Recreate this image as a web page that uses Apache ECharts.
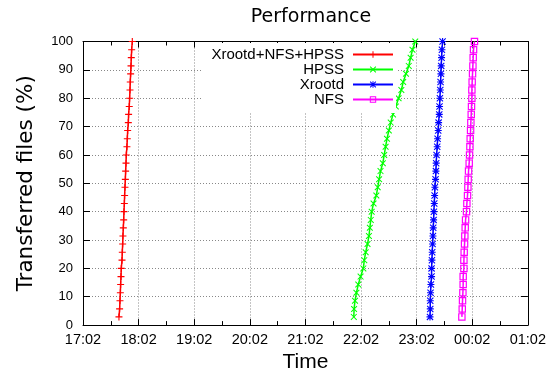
<!DOCTYPE html>
<html>
<head>
<meta charset="utf-8">
<script src="https://cdn.jsdelivr.net/npm/echarts@6/dist/echarts.min.js"></script>
<style>
  html, body { margin: 0; padding: 0; background: #fff; }
  #chart { width: 549px; height: 378px; }
</style>
</head>
<body>
<div id="chart"></div>
<script>
// x values are minutes after 17:02
const tickLabels = ['17:02', '18:02', '19:02', '20:02', '21:02', '22:02', '23:02', '00:02', '01:02'];

const percentDone = [2.9, 5.7, 8.6, 11.4, 14.3, 17.1, 20.0, 22.9, 25.7, 28.6, 31.4, 34.3,
  37.1, 40.0, 42.9, 45.7, 48.6, 51.4, 54.3, 57.1, 60.0, 62.9, 65.7, 68.6, 71.4, 74.3,
  77.1, 80.0, 82.9, 85.7, 88.6, 91.4, 94.3, 97.1, 100];

const xrootdNfsHpss = [38.8, 39.5, 39.9, 40.3, 40.6, 41.0, 41.3, 42.1, 42.4, 42.8, 43.1, 43.5,
  43.9, 44.2, 44.6, 44.9, 45.3, 45.7, 46.0, 46.4, 46.7, 47.4, 47.8, 48.2, 48.9, 49.2,
  49.9, 50.3, 50.7, 51.0, 51.4, 51.8, 52.1, 52.5, 53.2];

const hpss = [292.2, 292.5, 293.5, 295.0, 297.0, 299.5, 302.5, 303.5, 305.0, 307.0, 308.5, 309.5,
  310.5, 311.5, 313.5, 316.5, 318.0, 319.5, 321.0, 323.5, 325.0, 326.5, 328.0, 330.0, 332.0,
  334.5, 337.5, 340.5, 343.5, 345.5, 348.5, 351.5, 353.5, 355.5, 358.5];

const xrootd = [374.4, 374.7, 374.7, 375.0, 375.4, 376.1, 376.1, 376.5, 376.8, 377.2, 377.6, 377.9,
  378.3, 378.6, 379.0, 379.4, 379.7, 380.4, 380.8, 381.1, 381.5, 382.2, 382.6, 383.3, 383.7,
  384.4, 384.7, 385.1, 385.5, 385.8, 386.2, 386.5, 386.9, 387.3, 388.0];

const nfs = [408.8, 409.2, 409.5, 409.9, 410.2, 410.2, 411.0, 411.0, 411.3, 411.7, 412.0, 412.4,
  412.8, 413.8, 414.2, 414.9, 415.3, 415.6, 416.0, 416.7, 417.1, 417.5, 417.8, 418.2, 418.5,
  418.9, 419.2, 419.6, 419.6, 419.9, 420.3, 420.7, 421.0, 421.4, 422.4];

// gnuplot point types: +, x, *, open square
const PLUS = 'path://M0,4.2H10V5.8H0Z M4.2,0H5.8V10H4.2Z';
const CROSS = 'path://M0,1.1L1.1,0L10,8.9L8.9,10Z M8.9,0L10,1.1L1.1,10L0,8.9Z';
const STAR = 'path://M0,4.2H10V5.8H0Z M4.2,0H5.8V10H4.2Z M0,1.1L1.1,0L10,8.9L8.9,10Z M8.9,0L10,1.1L1.1,10L0,8.9Z';
const BOX = 'path://M0,0H10V10H0Z M1.6,1.6V8.4H8.4V1.6Z';

const FONT = 'Liberation Sans';
const WIDE_FONT = 'DejaVu Sans';

function pairs(xs) {
  return xs.map((x, i) => [x, percentDone[i]]);
}

function makeSeries(name, xs, color, symbol, symbolSize) {
  return {
    name: name,
    type: 'line',
    data: pairs(xs),
    symbol: symbol,
    symbolSize: symbolSize,
    showAllSymbol: true,
    color: color,
    lineStyle: { width: 1.5, color: color },
    itemStyle: { color: color, borderWidth: 0 },
    emphasis: { disabled: true }
  };
}

const chart = echarts.init(document.getElementById('chart'));

const dotted = { show: true, lineStyle: { color: '#888', type: [1, 2], width: 1 } };

chart.setOption({
  animation: false,
  backgroundColor: '#fff',
  textStyle: { fontFamily: FONT },
  title: {
    text: 'Performance',
    left: 306,
    textAlign: 'center',
    top: 3,
    textStyle: { fontFamily: WIDE_FONT, fontSize: 19, fontWeight: 'normal', color: '#000' }
  },
  legend: {
    orient: 'vertical',
    align: 'right',
    right: 153,
    top: 43,
    padding: [4, 2, 6, 10],
    itemGap: 0,
    itemWidth: 40,
    itemHeight: 8,
    backgroundColor: '#fff',
    textStyle: { fontFamily: FONT, fontSize: 15, color: '#000', lineHeight: 14.8, padding: [0, 4, 0, 0] },
    data: ['Xrootd+NFS+HPSS', 'HPSS', 'Xrootd', 'NFS']
  },
  grid: { left: 83, right: 20, top: 41.5, bottom: 44, containLabel: false },
  xAxis: [{
    type: 'value',
    min: 0,
    max: 480,
    interval: 60,
    name: 'Time',
    nameLocation: 'middle',
    nameGap: 22,
    nameTextStyle: { fontFamily: FONT, fontSize: 21, color: '#000' },
    axisLine: { show: true, onZero: false, lineStyle: { color: '#000', width: 1 } },
    axisTick: { show: true, inside: true, length: 6, lineStyle: { color: '#000' } },
    minorTick: { show: true, splitNumber: 2, length: 4, lineStyle: { color: '#000' } },
    axisLabel: {
      fontFamily: FONT, fontSize: 14.5, color: '#000', margin: 7,
      formatter: v => tickLabels[Math.round(v / 60)]
    },
    splitLine: dotted
  }, {
    type: 'value',
    position: 'top',
    min: 0,
    max: 480,
    interval: 60,
    axisLine: { show: true, onZero: false, lineStyle: { color: '#000', width: 1 } },
    axisTick: { show: true, inside: true, length: 6, lineStyle: { color: '#000' } },
    minorTick: { show: true, splitNumber: 2, length: 4, lineStyle: { color: '#000' } },
    axisLabel: { show: false },
    splitLine: { show: false }
  }],
  yAxis: [{
    type: 'value',
    min: 0,
    max: 100,
    interval: 10,
    name: 'Transferred files (%)',
    nameLocation: 'middle',
    nameGap: 46,
    nameTextStyle: { fontFamily: WIDE_FONT, fontSize: 21.5, color: '#000' },
    axisLine: { show: true, onZero: false, lineStyle: { color: '#000', width: 1 } },
    axisTick: { show: true, inside: true, length: 7, lineStyle: { color: '#000' } },
    axisLabel: { fontFamily: FONT, fontSize: 13, color: '#000', margin: 10 },
    splitLine: dotted
  }, {
    type: 'value',
    position: 'right',
    min: 0,
    max: 100,
    interval: 10,
    axisLine: { show: true, onZero: false, lineStyle: { color: '#000', width: 1 } },
    axisTick: { show: true, inside: true, length: 7, lineStyle: { color: '#000' } },
    axisLabel: { show: false },
    splitLine: { show: false }
  }],
  series: [
    makeSeries('Xrootd+NFS+HPSS', xrootdNfsHpss, '#ff0000', PLUS, 7),
    makeSeries('HPSS', hpss, '#00ff00', CROSS, 6.5),
    makeSeries('Xrootd', xrootd, '#0000ff', STAR, 7),
    makeSeries('NFS', nfs, '#ff00ff', BOX, 7.5)
  ]
});
</script>
</body>
</html>
